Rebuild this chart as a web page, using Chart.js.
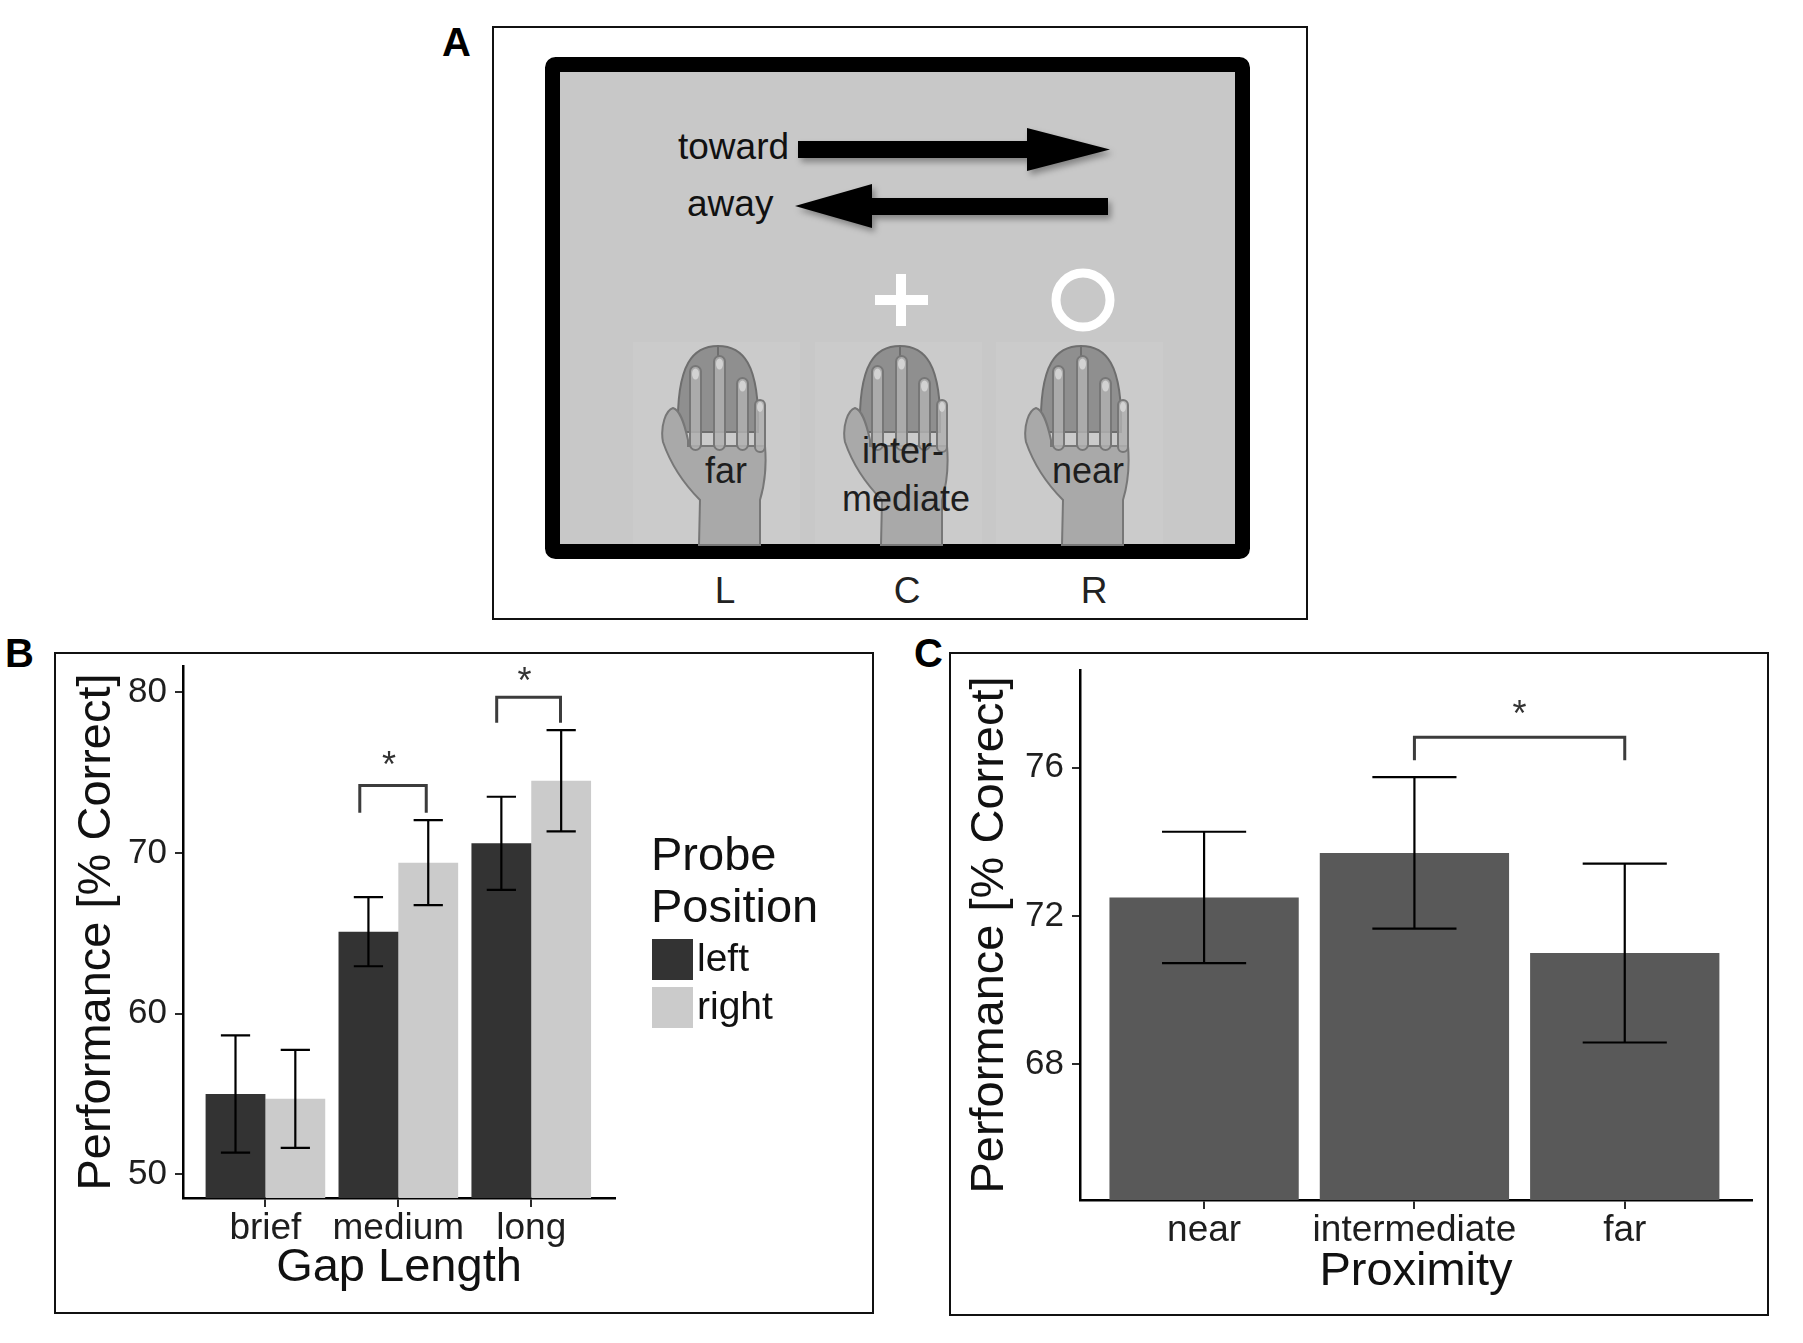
<!DOCTYPE html>
<html>
<head>
<meta charset="utf-8">
<script src="https://cdn.jsdelivr.net/npm/chart.js@4/dist/chart.umd.min.js"></script>
<style>
  body { margin: 0; background: #fff; font-family: "Liberation Sans", Arial, sans-serif; }
  #page { position: relative; width: 1803px; height: 1343px; overflow: hidden; }
  .panel-label { position: absolute; font: bold 40px "Liberation Sans", Arial, sans-serif; color: #000; line-height: 1; }
  .frame { position: absolute; border: 2px solid #111; box-sizing: border-box; }
  .plot { position: absolute; }
  svg text { font-family: "Liberation Sans", Arial, sans-serif; }
</style>
</head>
<body>
<div id="page">

  <!-- panel A : the task display -->
  <svg width="1803" height="640" style="position:absolute;left:0;top:0">
    <defs>
      <filter id="shadow" x="-10%" y="-50%" width="130%" height="220%">
        <feDropShadow dx="3" dy="4" stdDeviation="3" flood-color="#000" flood-opacity="0.35"/>
      </filter>
      <g id="hand">
        <rect x="-85" y="342" width="167" height="202" fill="#cbcbcb"/>
        <path d="M -40 432 C -42 362 -24 346 0 346 C 24 346 42 362 40 432 Z" fill="#8f8f8f" stroke="#6e6e6e" stroke-width="2"/>
        <line x1="0" y1="346" x2="0" y2="362" stroke="#6e6e6e" stroke-width="2"/>
        <path d="M -19 545 L -18 500 C -30 488 -46 468 -55 442 C -58 426 -52 410 -45 408 C -38 410 -34 422 -30 440 L -30 446 L 47 446 C 49 470 45 490 42 500 L 42 545 Z"
              fill="#a9a9a9" stroke="#777" stroke-width="2"/>
        <rect x="-28" y="366" width="11" height="84" rx="5.5" fill="#b0b0b0" fill-opacity="0.85" stroke="#777" stroke-width="2"/>
        <rect x="-4" y="356" width="11" height="94" rx="5.5" fill="#b0b0b0" fill-opacity="0.85" stroke="#777" stroke-width="2"/>
        <rect x="19" y="378" width="11" height="72" rx="5.5" fill="#b0b0b0" fill-opacity="0.85" stroke="#777" stroke-width="2"/>
        <rect x="37" y="400" width="10" height="52" rx="5" fill="#b0b0b0" fill-opacity="0.85" stroke="#777" stroke-width="2"/>
        <ellipse cx="-22.5" cy="374" rx="3.5" ry="5.5" fill="#d2d2d2"/>
        <ellipse cx="1.5" cy="364" rx="3.5" ry="5.5" fill="#d2d2d2"/>
        <ellipse cx="24.5" cy="386" rx="3.5" ry="5.5" fill="#d2d2d2"/>
        <ellipse cx="42" cy="407" rx="3" ry="5" fill="#d2d2d2"/>
      </g>
    </defs>

    <rect x="493" y="27" width="814" height="592" fill="none" stroke="#111" stroke-width="2"/>
    <rect x="552.5" y="64.5" width="690" height="487" rx="3" fill="#c8c8c8" stroke="#000" stroke-width="15"/>

    <text x="678" y="159" font-size="37" fill="#111">toward</text>
    <g filter="url(#shadow)">
      <rect x="798" y="141" width="232" height="17" fill="#000"/>
      <polygon points="1027,128 1110,149.5 1027,171" fill="#000"/>
    </g>
    <text x="687" y="216" font-size="37" fill="#111">away</text>
    <g filter="url(#shadow)">
      <polygon points="795,206 872,184 872,228" fill="#000"/>
      <rect x="868" y="198" width="240" height="17" fill="#000"/>
    </g>

    <rect x="875" y="295" width="53" height="10" fill="#fff"/>
    <rect x="896" y="274" width="10" height="52" fill="#fff"/>
    <circle cx="1083" cy="300" r="27" fill="none" stroke="#fff" stroke-width="9"/>

    <use href="#hand" x="718"/>
    <use href="#hand" x="900"/>
    <use href="#hand" x="1081"/>

    <text x="726" y="483" font-size="36" fill="#1e1e1e" text-anchor="middle">far</text>
    <text x="903" y="463" font-size="36" fill="#1e1e1e" text-anchor="middle">inter-</text>
    <text x="906" y="511" font-size="36" fill="#1e1e1e" text-anchor="middle">mediate</text>
    <text x="1088" y="483" font-size="36" fill="#1e1e1e" text-anchor="middle">near</text>

    <text x="725" y="603" font-size="37" fill="#222" text-anchor="middle">L</text>
    <text x="907" y="603" font-size="37" fill="#222" text-anchor="middle">C</text>
    <text x="1094" y="603" font-size="37" fill="#222" text-anchor="middle">R</text>
  </svg>

  <div class="panel-label" style="left:442px;top:22px">A</div>
  <div class="panel-label" style="left:5px;top:633px">B</div>
  <div class="panel-label" style="left:914px;top:633px">C</div>

  <div class="frame" style="left:54px;top:652px;width:820px;height:662px"></div>
  <div class="frame" style="left:949px;top:652px;width:820px;height:664px"></div>

  <div class="plot" style="left:55px;top:653px;width:818px;height:660px"><canvas id="gap"></canvas></div>
  <div class="plot" style="left:950px;top:653px;width:818px;height:662px"><canvas id="prox"></canvas></div>
</div>

<script>
// panel B : gap length x probe position
const gapCategories = ['brief', 'medium', 'long']
const probeLeft = [55.0, 65.1, 70.6]
const probeRight = [54.7, 69.4, 74.5]
const probeLeftErr = [3.65, 2.15, 2.9]
const probeRightErr = [3.05, 2.65, 3.15]
const gapTicks = [50, 60, 70, 80]
// [x from, x to, leg bottom, bracket top]
const gapBrackets = [[0.71, 1.21, 72.5, 74.2], [1.74, 2.22, 78.1, 79.7]]
const gapStars = [[0.93, 76.05], [1.95, 81.25]]

// panel C : proximity
const proxCategories = ['near', 'intermediate', 'far']
const proxValues = [72.5, 73.7, 71.0]
const proxErr = [1.77, 2.04, 2.41]
const proxTicks = [68, 72, 76]
const proxBrackets = [[1, 2, 76.2, 76.82]]
const proxStars = [[1.5, 77.69]]

const FONT = '"Liberation Sans", Arial, sans-serif'
Chart.defaults.font.family = FONT
Chart.defaults.color = '#222'

const gapMin = 48.525, gapMax = 81.64
const proxMin = 64.345, proxMax = 78.63


function bracketData(b) {
    return [{x: b[0], y: b[2]}, {x: b[0], y: b[3]}, {x: b[1], y: b[3]}, {x: b[1], y: b[2]}]
}

function bracketSets(list) {
    return list.map(b => ({
        type: 'line',
        data: bracketData(b),
        borderColor: '#3c3c3c',
        borderWidth: 3,
        pointRadius: 0,
        fill: false,
        tension: 0,
        clip: false
    }))
}

// error bars drawn on top of the bars, centred on each bar element
const errorBars = {
    id: 'errorBars',
    afterDatasetsDraw(chart, args, opts) {
        const {ctx, scales: {x, y}} = chart
        const half = x.getPixelForValue(opts.whisker / 2) - x.getPixelForValue(0)
        ctx.save()
        ctx.strokeStyle = '#000'
        ctx.lineWidth = 2.2
        chart.data.datasets.forEach((ds, di) => {
            if (!ds.errors) return
            chart.getDatasetMeta(di).data.forEach((bar, i) => {
                const v = ds.data[i].y
                const top = y.getPixelForValue(v + ds.errors[i])
                const bot = y.getPixelForValue(v - ds.errors[i])
                ctx.beginPath()
                ctx.moveTo(bar.x, top); ctx.lineTo(bar.x, bot)
                ctx.moveTo(bar.x - half, top); ctx.lineTo(bar.x + half, top)
                ctx.moveTo(bar.x - half, bot); ctx.lineTo(bar.x + half, bot)
                ctx.stroke()
            })
        })
        ctx.restore()
    }
}

const sigStars = {
    id: 'sigStars',
    afterDraw(chart, args, opts) {
        const {ctx, scales: {x, y}} = chart
        ctx.save()
        ctx.fillStyle = '#333'
        ctx.font = `${opts.size}px ${FONT}`
        ctx.textAlign = 'center'
        ctx.textBaseline = 'alphabetic'
        opts.points.forEach(p => {
            ctx.fillText('*', x.getPixelForValue(p[0]), y.getPixelForValue(p[1]) + opts.size * 0.58)
        })
        ctx.restore()
    }
}

// ggplot style legend on the right of panel B
const probeLegend = {
    id: 'probeLegend',
    afterDraw(chart) {
        const {ctx, chartArea} = chart
        const x0 = chartArea.right + 36
        const cy = (chartArea.top + chartArea.bottom) / 2
        ctx.save()
        ctx.fillStyle = '#111'
        ctx.textAlign = 'left'
        ctx.textBaseline = 'alphabetic'
        ctx.font = `47px ${FONT}`
        ctx.fillText('Probe', x0, cy - 62)
        ctx.fillText('Position', x0, cy - 10)
        ctx.font = `39px ${FONT}`
        ctx.textBaseline = 'middle'
        const bars = chart.data.datasets.filter(d => d.type !== 'line')
        bars.forEach((ds, i) => {
            const top = cy + 7 + i * 48
            ctx.fillStyle = ds.backgroundColor
            ctx.fillRect(x0 + 1, top, 41, 41)
            ctx.fillStyle = '#111'
            ctx.fillText(ds.label, x0 + 46, top + 21)
        })
        ctx.restore()
    }
}

function axes(cfg) {
    return {
        x: {
            type: 'linear', min: cfg.xmin, max: cfg.xmax, offset: false,
            afterBuildTicks: s => { s.ticks = [0, 1, 2].map(v => ({value: v})) },
            afterFit: s => { s.height = cfg.xh; s.paddingLeft = 0; s.paddingRight = 0 },
            ticks: {
                callback: v => cfg.cats[v],
                font: {size: 37}, color: '#1e1e1e', padding: 0,
                maxRotation: 0, autoSkip: false
            },
            grid: {display: true, offset: false, drawOnChartArea: false, drawTicks: true, tickLength: 9, color: '#2b2b2b', lineWidth: 2},
            border: {display: true, color: '#000', width: 2.5},
            title: {display: true, text: cfg.xtitle, font: {size: 47}, color: '#111', padding: {top: 0, bottom: cfg.xpad}}
        },
        y: {
            min: cfg.ymin, max: cfg.ymax,
            afterBuildTicks: s => { s.ticks = cfg.yticks.map(v => ({value: v})) },
            afterFit: s => { s.width = cfg.yw; s.paddingTop = 0; s.paddingBottom = 0 },
            ticks: {font: {size: 35}, color: '#1e1e1e', padding: 8},
            grid: {display: true, drawOnChartArea: false, drawTicks: true, tickLength: 8, color: '#2b2b2b', lineWidth: 2},
            border: {display: true, color: '#000', width: 2.5},
            title: {display: true, text: 'Performance [% Correct]', font: {size: 47}, color: '#111', padding: {top: cfg.ypad, bottom: 0}}
        }
    }
}

new Chart(document.getElementById('gap'), {
    type: 'bar',
    data: {
        datasets: [
            {
                label: 'left',
                data: probeLeft.map((v, i) => ({x: i, y: v})),
                errors: probeLeftErr,
                backgroundColor: '#333333',
                base: gapMin,
                categoryPercentage: 0.9,
                barPercentage: 1.0
            },
            {
                label: 'right',
                data: probeRight.map((v, i) => ({x: i, y: v})),
                errors: probeRightErr,
                backgroundColor: '#cbcbcb',
                base: gapMin,
                categoryPercentage: 0.9,
                barPercentage: 1.0
            },
            ...bracketSets(gapBrackets)
        ]
    },
    options: {
        responsive: true,
        maintainAspectRatio: false,
        animation: false,
        layout: {padding: {top: 13, right: 258, bottom: 0, left: 0}},
        plugins: {
            legend: {display: false},
            tooltip: {enabled: false},
            errorBars: {whisker: 0.22},
            sigStars: {points: gapStars, size: 36}
        },
        scales: axes({
            cats: gapCategories, xmin: -0.62, xmax: 2.63, xh: 115, xtitle: 'Gap Length', xpad: 17,
            ymin: gapMin, ymax: gapMax, yticks: gapTicks, yw: 128, ypad: 14
        })
    },
    plugins: [errorBars, sigStars, probeLegend]
});

new Chart(document.getElementById('prox'), {
    type: 'bar',
    data: {
        datasets: [
            {
                label: 'performance',
                data: proxValues.map((v, i) => ({x: i, y: v})),
                errors: proxErr,
                backgroundColor: '#595959',
                base: proxMin,
                categoryPercentage: 0.9,
                barPercentage: 1.0
            },
            ...bracketSets(proxBrackets)
        ]
    },
    options: {
        responsive: true,
        maintainAspectRatio: false,
        animation: false,
        layout: {padding: {top: 17, right: 16, bottom: 0, left: 0}},
        plugins: {
            legend: {display: false},
            tooltip: {enabled: false},
            errorBars: {whisker: 0.4},
            sigStars: {points: proxStars, size: 36}
        },
        scales: axes({
            cats: proxCategories, xmin: -0.59, xmax: 2.605, xh: 115, xtitle: 'Proximity', xpad: 15,
            ymin: proxMin, ymax: proxMax, yticks: proxTicks, yw: 130, ypad: 12
        })
    },
    plugins: [errorBars, sigStars]
});
</script>
</body>
</html>
